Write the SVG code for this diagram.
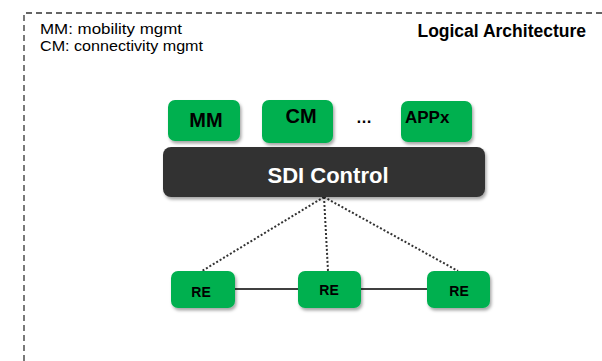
<svg xmlns="http://www.w3.org/2000/svg" width="602" height="361" viewBox="0 0 602 361">
  <defs>
    <filter id="shadow" x="-20%" y="-20%" width="140%" height="160%">
      <feDropShadow dx="1.5" dy="2.5" stdDeviation="1.8" flood-color="#000" flood-opacity="0.35"/>
    </filter>
  </defs>
  <style>
    .frame { fill: none; stroke: #333; stroke-width: 1.3; stroke-dasharray: 6 4; }
    .app { fill: #00B050; filter: url(#shadow); }
    .ctrl { fill: #333333; filter: url(#shadow); }
    .lbl { font-family: "Liberation Sans", Arial, sans-serif; font-weight: bold; fill: #000; }
    .note { font-family: "Liberation Sans", Arial, sans-serif; font-size: 15px; fill: #000; }
    .dot { stroke: #333; stroke-width: 2; stroke-dasharray: 2 2; fill: none; }
    .link { stroke: #404040; stroke-width: 2; fill: none; }
  </style>

  <!-- dashed frame (top and left edges) -->
  <path class="frame" d="M24,361 V13 H602"/>

  <!-- legend and title -->
  <text class="note" x="40" y="34" textLength="142" lengthAdjust="spacingAndGlyphs">MM: mobility mgmt</text>
  <text class="note" x="40" y="51" textLength="163" lengthAdjust="spacingAndGlyphs">CM: connectivity mgmt</text>
  <text class="lbl" x="586" y="37" font-size="17.5" text-anchor="end">Logical Architecture</text>

  <!-- connectors -->
  <g id="connectors">
    <line class="dot" x1="324" y1="197" x2="202" y2="271"/>
    <line class="dot" x1="324" y1="197" x2="328" y2="271"/>
    <line class="dot" x1="324" y1="197" x2="458" y2="271"/>
    <line class="link" x1="235" y1="289" x2="298" y2="289"/>
    <line class="link" x1="361" y1="289" x2="427" y2="289"/>
  </g>

  <!-- applications -->
  <g id="app-mm">
    <rect class="app" x="168" y="100" width="72" height="41" rx="7"/>
    <text class="lbl" x="206" y="127" font-size="20" text-anchor="middle">MM</text>
  </g>
  <g id="app-cm">
    <rect class="app" x="262" y="100" width="71" height="43" rx="7"/>
    <text class="lbl" x="301" y="123" font-size="20" text-anchor="middle">CM</text>
  </g>
  <g id="app-more">
    <text class="lbl" x="364" y="123" font-size="16" text-anchor="middle">…</text>
  </g>
  <g id="app-x">
    <rect class="app" x="401" y="101" width="71" height="41" rx="7"/>
    <text class="lbl" x="405" y="123" font-size="17">APPx</text>
  </g>

  <!-- controller -->
  <g id="sdi-control">
    <rect class="ctrl" x="163" y="147" width="322" height="50" rx="8"/>
    <text class="lbl" x="328" y="183" font-size="22" style="fill:#fff" text-anchor="middle">SDI Control</text>
  </g>

  <!-- radio elements -->
  <g id="re-1">
    <rect class="app" x="171" y="271" width="64" height="37" rx="7"/>
    <text class="lbl" x="201" y="297" font-size="14" text-anchor="middle">RE</text>
  </g>
  <g id="re-2">
    <rect class="app" x="298" y="271" width="63" height="37" rx="7"/>
    <text class="lbl" x="329" y="295" font-size="14" text-anchor="middle">RE</text>
  </g>
  <g id="re-3">
    <rect class="app" x="427" y="271" width="63" height="37" rx="7"/>
    <text class="lbl" x="459" y="296" font-size="14" text-anchor="middle">RE</text>
  </g>
</svg>
